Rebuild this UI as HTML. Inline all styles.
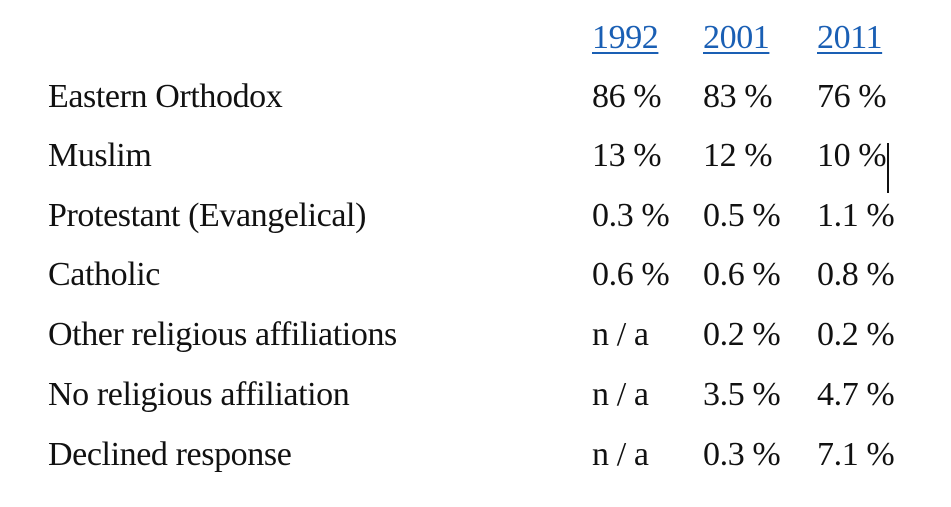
<!DOCTYPE html>
<html><head><meta charset="utf-8">
<style>
html,body{margin:0;padding:0;background:#fff;}
body{width:951px;height:507px;position:relative;overflow:hidden;font-family:"Liberation Serif",serif;color:#111;}
.t{position:absolute;font-size:34px;line-height:40px;white-space:nowrap;letter-spacing:-0.4px;}
.h{color:#1a5fb4;text-decoration:underline;text-decoration-thickness:1.5px;text-underline-offset:4px;}
</style></head><body>
<div>
<div class="t h" style="left:592px;top:18px">1992</div>
<div class="t h" style="left:703px;top:18px">2001</div>
<div class="t h" style="left:817px;top:18px">2011</div>

<div class="t" style="left:48px;top:77px">Eastern Orthodox</div>
<div class="t" style="left:592px;top:77px">86 %</div>
<div class="t" style="left:703px;top:77px">83 %</div>
<div class="t" style="left:817px;top:77px">76 %</div>

<div class="t" style="left:48px;top:136px">Muslim</div>
<div class="t" style="left:592px;top:136px">13 %</div>
<div class="t" style="left:703px;top:136px">12 %</div>
<div class="t" style="left:817px;top:136px">10 %</div>
<div style="position:absolute;left:887px;top:143px;width:1.5px;height:50px;background:#111"></div>

<div class="t" style="left:48px;top:196px">Protestant (Evangelical)</div>
<div class="t" style="left:592px;top:196px">0.3 %</div>
<div class="t" style="left:703px;top:196px">0.5 %</div>
<div class="t" style="left:817px;top:196px">1.1 %</div>

<div class="t" style="left:48px;top:255px">Catholic</div>
<div class="t" style="left:592px;top:255px">0.6 %</div>
<div class="t" style="left:703px;top:255px">0.6 %</div>
<div class="t" style="left:817px;top:255px">0.8 %</div>

<div class="t" style="left:48px;top:315px">Other religious affiliations</div>
<div class="t" style="left:592px;top:315px">n / a</div>
<div class="t" style="left:703px;top:315px">0.2 %</div>
<div class="t" style="left:817px;top:315px">0.2 %</div>

<div class="t" style="left:48px;top:375px">No religious affiliation</div>
<div class="t" style="left:592px;top:375px">n / a</div>
<div class="t" style="left:703px;top:375px">3.5 %</div>
<div class="t" style="left:817px;top:375px">4.7 %</div>

<div class="t" style="left:48px;top:435px">Declined response</div>
<div class="t" style="left:592px;top:435px">n / a</div>
<div class="t" style="left:703px;top:435px">0.3 %</div>
<div class="t" style="left:817px;top:435px">7.1 %</div>
</div>
</body></html>
